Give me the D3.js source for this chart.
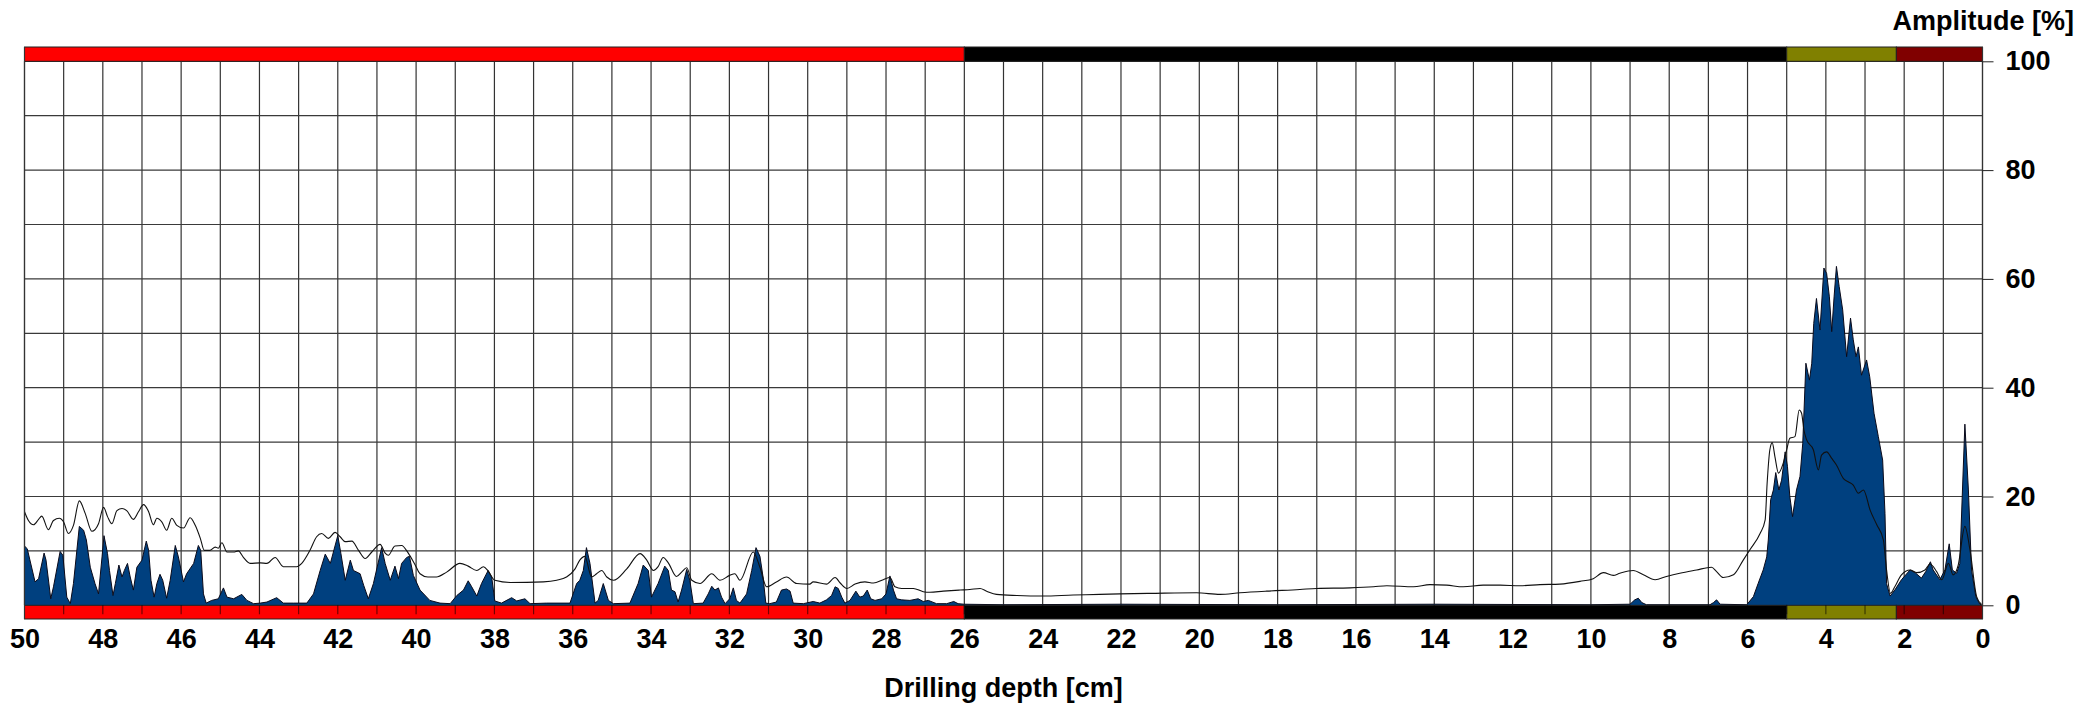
<!DOCTYPE html>
<html><head><meta charset="utf-8">
<script src="https://cdn.jsdelivr.net/npm/d3@7"></script>
<style>html,body{margin:0;padding:0;background:#fff;}svg{display:block}</style>
</head><body>
<svg id="c" width="2096" height="705"></svg>
<script>
// ---- data ----
const depthTicks = [50,48,46,44,42,40,38,36,34,32,30,28,26,24,22,20,18,16,14,12,10,8,6,4,2,0];
const ampTicks = [0,20,40,60,80,100];
const xTitle = "Drilling depth [cm]";
const yTitle = "Amplitude [%]";
const bandBreaks = [50, 26, 5, 2.2, 0];
const bandNames = ["zone1","zone2","zone3","zone4"];

const blueDepth = [50.0,49.93,49.73,49.64,49.5,49.45,49.33,49.26,49.09,49.02,48.92,48.83,48.75,48.6,48.49,48.42,48.32,48.2,48.11,48.02,47.97,47.88,47.83,47.74,47.68,47.59,47.51,47.45,47.37,47.30,47.22,47.13,47.0,46.89,46.83,46.77,46.69,46.62,46.54,46.47,46.37,46.28,46.15,46.07,45.94,45.86,45.68,45.56,45.50,45.43,45.36,45.22,45.05,44.92,44.83,44.66,44.45,44.32,44.15,43.98,43.81,43.56,43.39,43.13,42.79,42.62,42.45,42.32,42.19,42.0,41.92,41.81,41.68,41.60,41.43,41.34,41.22,41.09,40.88,40.79,40.66,40.54,40.45,40.37,40.24,40.17,40.07,39.90,39.65,39.39,39.13,38.96,38.79,38.67,38.58,38.45,38.33,38.16,38.07,37.99,37.82,37.56,37.43,37.22,37.09,36.67,36.07,35.90,35.82,35.73,35.65,35.56,35.43,35.35,35.22,35.09,34.96,34.54,34.33,34.20,34.07,33.99,33.82,33.65,33.56,33.48,33.39,33.31,33.22,33.09,33.01,32.92,32.67,32.54,32.45,32.37,32.28,32.20,32.11,31.99,31.90,31.82,31.73,31.56,31.43,31.32,31.22,31.14,31.07,30.97,30.80,30.67,30.54,30.45,30.37,30.11,29.86,29.69,29.52,29.39,29.30,29.22,29.13,29.05,28.92,28.77,28.67,28.58,28.48,28.39,28.28,28.11,28.0,27.90,27.81,27.73,27.60,27.39,27.18,27.05,26.92,26.71,26.45,26.27,26.16,26.01,25.0,22.0,18.0,14.0,10.0,9.0,8.88,8.79,8.70,8.58,6.96,6.87,6.79,6.70,6.02,5.85,5.73,5.60,5.51,5.47,5.41,5.34,5.28,5.20,5.13,5.04,4.98,4.92,4.85,4.75,4.66,4.59,4.51,4.42,4.36,4.31,4.24,4.15,4.05,3.98,3.91,3.85,3.79,3.73,3.66,3.57,3.47,3.37,3.30,3.23,3.17,3.09,2.96,2.88,2.77,2.66,2.55,2.49,2.45,2.36,2.24,2.07,1.85,1.72,1.56,1.45,1.33,1.26,1.09,0.96,0.85,0.77,0.66,0.58,0.45,0.36,0.28,0.17,0.07,0.0];
const blueAmp = [10.9,10.4,4.3,4.9,9.6,8.3,1.2,3.4,9.9,9.2,1.5,0.3,4.0,14.5,13.8,12.0,7.0,4.0,2.1,8.9,12.8,9.5,6.4,1.8,4.0,7.4,5.2,6.4,7.7,5.2,2.8,7.0,8.3,11.8,10.1,4.6,1.5,4.0,5.7,4.6,1.3,4.6,11.0,8.9,4.3,5.8,7.7,11.0,10.1,2.1,0.4,0.9,1.2,3.2,1.5,1.2,2.0,0.9,0.3,0.4,0.6,1.4,0.4,0.4,0.4,2.1,6.4,9.4,7.7,12.8,9.5,4.6,8.3,6.4,5.8,3.7,1.2,4.0,10.6,7.7,4.6,7.2,4.9,7.7,8.8,9.0,5.5,2.8,0.9,0.4,0.3,1.8,2.8,4.5,3.4,1.7,4.0,6.4,5.2,0.8,0.4,1.4,0.8,1.2,0.3,0.4,0.4,4.0,4.6,6.4,10.6,7.7,0.4,0.9,4.0,0.9,0.3,0.4,4.0,7.4,6.4,1.5,4.0,7.2,6.4,2.8,2.5,0.6,2.8,6.6,4.6,0.3,0.4,2.1,3.5,2.8,3.2,1.5,0.3,1.2,3.2,0.9,0.4,2.1,6.4,10.6,9.0,5.2,0.4,0.3,0.6,2.8,3.0,2.6,0.4,0.3,0.7,0.4,1.0,1.8,3.4,3.1,1.5,0.4,0.9,2.6,1.5,1.7,2.8,1.2,0.9,1.2,2.1,5.4,2.8,1.2,1.0,0.9,1.2,0.7,0.9,0.3,0.3,0.7,0.3,0.2,0.1,0.2,0.1,0.2,0.1,0.2,1.0,1.3,0.5,0.1,0.1,0.5,1.0,0.2,0.1,1.6,4.0,6.5,8.9,12.0,19.4,21.2,24.4,21.2,23.0,28.2,25.5,20.0,16.3,21.2,23.7,29.8,44.5,41.4,44.5,51.8,56.4,50.6,62.0,61.0,56.7,50.3,56.7,62.3,58.6,54.3,45.7,52.8,48.8,45.7,47.5,42.3,45.1,42.0,35.3,31.0,26.7,16.9,4.0,1.7,2.8,4.7,6.5,6.0,5.0,6.2,8.0,6.5,4.7,6.5,11.3,6.5,5.9,7.7,33.3,21.2,6.5,1.6,0.2,0.0];

const lineDepth = [50.0,49.9,49.77,49.64,49.56,49.39,49.26,49.11,49.0,48.88,48.75,48.6,48.45,48.28,48.11,47.98,47.88,47.77,47.64,47.51,47.39,47.22,47.09,46.96,46.83,46.71,46.62,46.49,46.37,46.24,46.11,45.94,45.77,45.64,45.51,45.41,45.26,45.13,45.05,44.96,44.83,44.66,44.54,44.41,44.24,43.98,43.81,43.60,43.39,43.22,43.05,42.92,42.71,42.54,42.41,42.24,42.07,41.94,41.81,41.64,41.47,41.30,41.13,40.92,40.79,40.71,40.54,40.37,40.20,40.03,39.90,39.70,39.48,39.22,38.88,38.67,38.45,38.28,38.16,37.99,37.60,36.75,36.41,36.16,35.94,35.82,35.69,35.52,35.39,35.26,35.13,34.96,34.62,34.28,34.11,33.94,33.82,33.69,33.56,33.35,33.22,33.09,32.96,32.75,32.45,32.24,31.99,31.86,31.73,31.39,31.22,31.05,30.80,30.54,30.28,29.95,29.86,29.52,29.30,29.17,29.0,28.79,28.54,28.32,28.07,27.90,27.77,27.60,27.30,27.05,26.88,26.54,26.11,25.86,25.60,25.43,25.18,24.66,23.98,23.22,22.54,22.03,21.18,20.07,19.47,18.96,18.28,17.43,17.0,16.15,15.55,15.21,14.53,14.11,13.68,13.26,12.75,12.32,11.81,11.30,10.79,10.28,9.94,9.68,9.43,9.26,8.92,8.66,8.36,8.07,7.73,7.30,6.92,6.79,6.62,6.36,6.11,5.94,5.68,5.55,5.50,5.43,5.37,5.30,5.21,5.09,5.00,4.92,4.79,4.68,4.62,4.56,4.49,4.32,4.19,4.11,3.98,3.85,3.73,3.55,3.43,3.30,3.17,3.04,2.87,2.70,2.53,2.45,2.35,2.24,2.07,1.85,1.68,1.47,1.34,1.17,1.04,0.87,0.75,0.62,0.45,0.32,0.15,0.03];
const lineAmp = [17.2,15.6,14.8,15.8,16.4,13.9,15.6,16.0,15.3,13.2,14.7,19.2,16.9,13.6,15.0,18.0,16.3,15.0,17.4,17.8,17.4,15.8,17.2,18.5,17.2,14.8,16.0,15.3,13.8,16.0,14.7,14.2,16.1,14.7,12.3,10.1,10.1,10.7,10.5,11.5,9.8,9.8,10.0,8.8,7.7,7.8,7.7,8.8,7.1,7.1,7.1,7.7,10.1,12.6,13.2,12.3,13.4,12.6,11.7,11.8,10.1,8.6,9.8,11.2,9.6,9.2,10.9,11.0,9.6,7.5,5.8,5.2,5.2,6.1,7.7,7.2,6.4,7.1,6.3,4.6,4.2,4.3,4.6,5.2,6.7,8.3,9.0,5.2,5.8,6.4,5.2,4.6,6.7,9.5,8.3,6.4,7.1,8.8,7.8,5.3,6.1,6.9,4.6,4.0,5.8,4.6,5.5,5.8,4.6,9.8,7.0,3.4,4.3,5.2,4.0,3.9,4.3,3.9,5.1,4.1,3.1,3.9,4.3,4.1,4.7,5.1,3.4,3.1,3.1,2.5,2.4,2.6,2.8,2.9,3.1,2.6,2.0,1.8,1.7,1.9,2.0,2.1,2.2,2.3,2.0,2.3,2.6,2.9,3.1,3.2,3.4,3.6,3.4,3.8,3.7,3.4,3.7,3.7,3.6,3.8,3.9,4.4,4.9,6.0,5.5,5.9,6.4,5.6,4.7,5.3,5.9,6.5,7.0,6.2,5.1,5.6,8.3,10.2,13.2,15.7,22.4,28.6,29.9,27.3,24.3,26.1,28.6,30.7,31.0,35.9,35.3,32.2,30.4,28.6,24.9,27.6,28.2,27.0,25.8,23.3,22.7,22.1,20.6,21.2,17.5,14.8,12.0,6.5,2.2,3.4,5.6,6.5,6.0,6.5,7.6,6.2,4.7,7.7,5.6,7.4,14.5,10.2,1.6,0.2];

// ---- styles ----
const bandColors = {zone1:"#ff0000", zone2:"#000000", zone3:"#808000", zone4:"#800000"};
const FONT = "'Liberation Sans', Arial, Helvetica, sans-serif";

const svg = d3.select("#c");
const X0 = 24.5, X1 = 1982.5, Y0 = 605.3, Y1 = 61.3;
const x = d3.scaleLinear().domain([50, 0]).range([X0, X1]);
const y = d3.scaleLinear().domain([0, 100]).range([Y0, Y1]);

// grid
const g = svg.append("g");
g.selectAll("line.v").data(d3.range(0, 51)).enter().append("line")
  .attr("x1", d => x(d)).attr("x2", d => x(d)).attr("y1", Y1).attr("y2", Y0)
  .attr("stroke", "#333").attr("stroke-width", 1.2);
g.selectAll("line.h").data(d3.range(0, 101, 10)).enter().append("line")
  .attr("x1", X0).attr("x2", X1).attr("y1", d => y(d)).attr("y2", d => y(d))
  .attr("stroke", "#3a3a3a").attr("stroke-width", 1.2);

// series
const blue = blueDepth.map((d, i) => [d, blueAmp[i]]);
const line2 = lineDepth.map((d, i) => [d, lineAmp[i]]);
const area = d3.area().x(d => x(d[0])).y0(y(0)).y1(d => y(d[1]));
const ln = d3.line().x(d => x(d[0])).y(d => y(d[1]));
const lnSmooth = d3.line().x(d => x(d[0])).y(d => y(d[1])).curve(d3.curveMonotoneX);
svg.append("path").datum(blue).attr("d", area).attr("fill", "#00407f");
svg.append("path").datum(blue).attr("d", ln).attr("fill", "none").attr("stroke", "#0a0a1a").attr("stroke-width", 1);
svg.append("path").datum(line2).attr("d", lnSmooth).attr("fill", "none").attr("stroke", "#111").attr("stroke-width", 1.1);

// bands
const bands = bandNames.map((n, i) => ({name: n, from: bandBreaks[i], to: bandBreaks[i + 1]}));
[[47, Y1], [Y0, 619]].forEach(([ya, yb]) => {
  svg.append("g").selectAll("rect").data(bands).enter().append("rect")
    .attr("x", d => x(d.from)).attr("width", d => x(d.to) - x(d.from))
    .attr("y", ya).attr("height", yb - ya)
    .attr("fill", d => bandColors[d.name]).attr("stroke", "#222").attr("stroke-width", 1);
});
svg.append("g").selectAll("line").data(d3.range(1, 50)).enter().append("line")
  .attr("x1", d => x(d)).attr("x2", d => x(d)).attr("y1", Y0).attr("y2", Y0 + 9)
  .attr("stroke", "#000").attr("stroke-opacity", 0.55).attr("stroke-width", 1.2);

// plot edges
svg.append("line").attr("x1", X0).attr("x2", X0).attr("y1", 47).attr("y2", 619).attr("stroke", "#333").attr("stroke-width", 1.2);
svg.append("line").attr("x1", X1).attr("x2", X1).attr("y1", 47).attr("y2", 619).attr("stroke", "#333").attr("stroke-width", 1.2);

// axes
const ax = svg.append("g").attr("transform", `translate(${X1},0)`)
  .call(d3.axisRight(y).tickValues(ampTicks).tickSize(11).tickPadding(12));
ax.select(".domain").remove();
ax.selectAll("line").attr("stroke", "#222");
ax.selectAll("text").attr("font-family", FONT).attr("font-weight", "bold").attr("font-size", 27).attr("fill", "#000");

const bx = svg.append("g").attr("transform", `translate(0,619)`)
  .call(d3.axisBottom(x).tickValues(depthTicks).tickSize(0).tickPadding(10).tickFormat(d3.format("d")));
bx.select(".domain").remove();
bx.selectAll("text").attr("font-family", FONT).attr("font-weight", "bold").attr("font-size", 27).attr("fill", "#000");

svg.append("text").attr("x", (X0 + X1) / 2).attr("y", 697).attr("text-anchor", "middle")
  .attr("font-family", FONT).attr("font-weight", "bold").attr("font-size", 27).text(xTitle);
svg.append("text").attr("x", 2074).attr("y", 30).attr("text-anchor", "end")
  .attr("font-family", FONT).attr("font-weight", "bold").attr("font-size", 27).text(yTitle);
</script>
</body></html>
